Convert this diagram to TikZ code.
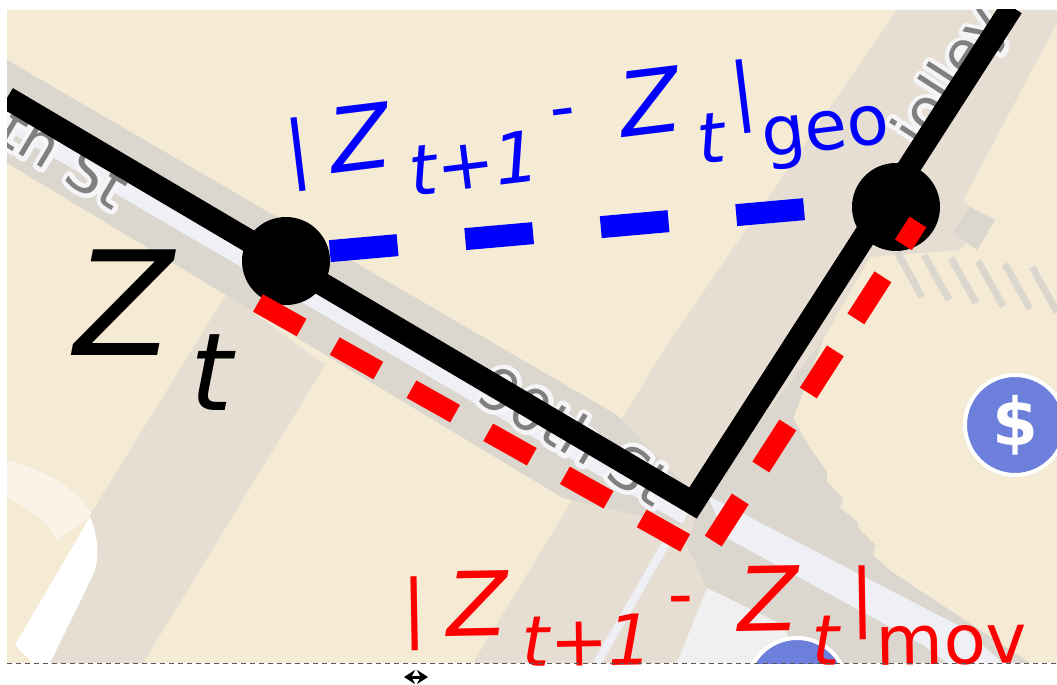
\documentclass[tikz,border=0pt]{standalone}
\usepackage{fontspec}
\setmainfont{DejaVu Sans}
\usetikzlibrary{arrows.meta}
\newcommand{\fs}[1]{\fontsize{#1}{#1}\selectfont}
% |Z_{t+1}- Z_t|_sub, all sizes in picture pixels
\newcommand{\difflabel}[1]{%
  \raisebox{4pt}{\fs{74}|}\kern20pt{\fs{89}\itshape Z}\kern14pt%
  \raisebox{-32pt}{\fs{70}\itshape t+1}\kern16pt%
  \raisebox{14pt}{\fs{70}-}\kern45pt{\fs{89}\itshape Z}\kern12pt%
  \raisebox{-36pt}{\fs{70}\itshape t}\kern11pt%
  \raisebox{7pt}{\fs{74}|}\kern1pt\raisebox{-37pt}{\fs{69}#1}}
\definecolor{mapcream}{HTML}{F5EAD3}
\definecolor{maptan}{HTML}{E6DED2}
\definecolor{mapgray}{HTML}{DBD6CE}
\definecolor{mapstrip}{HTML}{EEF0F5}
\definecolor{mappin}{HTML}{6B7FDB}
\tikzset{
  >=Stealth,
  track/.style={line width=23pt, line join=miter},
  stopdot/.style={circle,fill=black,inner sep=0pt,minimum size=88pt},
  geoline/.style={blue,line width=22pt,dash pattern=on 68pt off 68pt,dash phase=92pt},
  movline/.style={red,line width=20pt,line join=miter,dash pattern=on 50pt off 38pt},
  pin/.style={circle,fill=mappin,draw=white,line width=4pt,inner sep=0pt,minimum size=100pt},
  streetname/.style={text=black!50,font=\fs{58}}
}
% position, angle, text: white outline under the grey letters
\newcommand{\street}[3]{%
  \node[streetname,rotate=#2] at (#1) {\special{pdf:code q 0.96 0.96 0.97 RG 9 w 1 j 1 J 1 Tr}#3\special{pdf:code Q}};
  \node[streetname,rotate=#2] at (#1) {#3};}
\begin{document}
\begin{tikzpicture}[x=1pt,y=-1pt]
  \useasboundingbox (0,0) rectangle (1057,685);
  \fill[white] (0,0) rectangle (1057,685);

  % --- Map ---
  \begin{scope}
    \clip (7,10) rectangle (1057,663);
    \fill[mapcream] (7,10) rectangle (1057,663);
    % pale curve at the lower left
    \fill[mapcream!55!white] (7,460) .. controls (45,470) and (80,490) .. (92,515)
      -- (57,540) .. controls (50,525) and (30,508) .. (7,498) -- cycle;
    % side street on the left
    \fill[maptan] (227,293) -- (90,515) -- (98,545) -- (50,663) -- (143,663) -- (325,365) -- cycle;
    \fill[white] (90,517) .. controls (98,535) and (100,560) .. (93,575)
      -- (50,663) -- (33,663) -- (15,645) -- cycle;
    % street from the top right
    \fill[maptan] (897,10) -- (667,345) -- (473,663) -- (680,663) -- (793,418)
      -- (823,340) -- (870,257) -- (960,250) -- (985,222) -- (963,200) -- (1057,23) -- (1057,10) -- cycle;
    % main street
    \fill[mapgray] (7,60) -- (617,415) -- (700,500) -- (680,525) -- (563,498) -- (7,163) -- cycle;
    \fill[mapgray] (700,500) -- (823,340) -- (793,418) -- (810,448) -- (827,472) -- (827,482)
      -- (843,498) -- (840,508) -- (858,522) -- (858,528) -- (875,545) -- (873,555) -- (892,572)
      -- (1030,663) -- (680,663) -- (707,588) -- (687,545) -- cycle;
    \fill[mapgray] (970,207) -- (995,220) -- (977,250) -- (953,233) -- cycle;
    \foreach \i in {0,...,6}
      \draw[mapgray,line width=7pt] (897+27*\i,252+3*\i) -- ++(25,45);
    % pale carriageway
    \draw[mapstrip,line width=32pt] (7,112) -- (690,510);
    \fill[mapstrip] (707,495) -- (963,628) -- (1003,663) -- (947,663) -- (923,645) -- (727,538) -- cycle;
    \draw[mapstrip,line width=8pt] (668,540) -- (597,663);
    \fill[black!6] (707,588) -- (783,625) -- (800,663) -- (677,663) -- cycle;
    % street names
    \street{65,157}{-31}{th St}
    \street{575,435}{-31}{90th St}
    \street{952,78}{57}{iolley}
    % pins
    \node[pin] (pinright) at (1015,425) {};
    \node[pin] (pinbottom) at (797,688) {};
    \node[text=white,font=\fs{66}\bfseries] (pinsign) at (pinright) {\$};

    % --- Track ---
    \coordinate (trackstart) at (7,98);
    \coordinate (trackcorner) at (693,503);
    \coordinate (trackend) at (1012,7);
    \draw[track] (trackstart) -- (trackcorner) -- (trackend);
  \end{scope}

  % --- Distances ---
  \coordinate (geostart) at (286,255);
  \coordinate (geoend) at (896,201);
  \draw[geoline] (geostart) -- (geoend);
  \node[stopdot] (zt) at (286,261) {};
  \node[stopdot] (znext) at (896,207) {};
  \coordinate (movstart) at (258,303);
  \coordinate (movcorner) at (705,554);
  \coordinate (movend) at (918,222);
  \draw[movline] (movstart) -- (movcorner) -- (movend);

  % --- Labels ---
  \node[anchor=base west,inner sep=0pt,font=\fs{145}\itshape] (ztname) at (74,355) {Z};
  \node[anchor=base west,inner sep=0pt,font=\fs{108}\itshape] (ztsub) at (190,410) {t};
  \node[anchor=base west,inner sep=0pt,blue,rotate=7] (geolabel) at (289,179) {\difflabel{geo}};
  \begin{scope}
    \clip (0,0) rectangle (1057,667);
    \node[anchor=base west,inner sep=0pt,red,rotate=1] (movlabel) at (402,637) {\difflabel{mov}};
  \end{scope}

  % --- Window edge ---
  \coordinate (edgeleft) at (7,663);
  \coordinate (edgeright) at (1057,663);
  \draw[black!65,line width=1pt,dash pattern=on 5pt off 4pt] (edgeleft) -- (edgeright);
  \coordinate (cursorleft) at (404,677);
  \coordinate (cursorright) at (428,677);
  \draw[line width=3pt,{Stealth[length=11pt,width=14pt]}-{Stealth[length=11pt,width=14pt]}] (cursorleft) -- (cursorright);
\end{tikzpicture}
\end{document}
